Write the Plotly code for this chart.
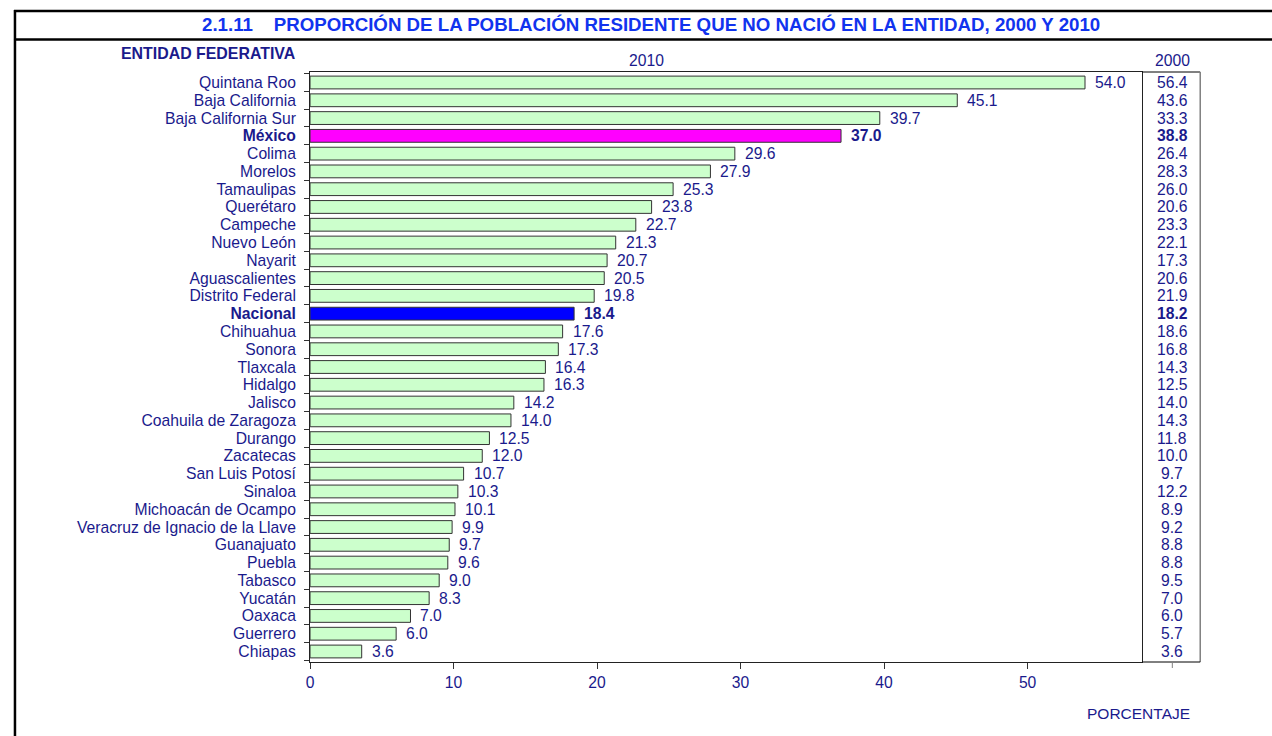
import plotly.graph_objects as go

entidades = ["Quintana Roo", "Baja California", "Baja California Sur", "México", "Colima",
             "Morelos", "Tamaulipas", "Querétaro", "Campeche", "Nuevo León", "Nayarit",
             "Aguascalientes", "Distrito Federal", "Nacional", "Chihuahua", "Sonora",
             "Tlaxcala", "Hidalgo", "Jalisco", "Coahuila de Zaragoza", "Durango",
             "Zacatecas", "San Luis Potosí", "Sinaloa", "Michoacán de Ocampo",
             "Veracruz de Ignacio de la Llave", "Guanajuato", "Puebla", "Tabasco",
             "Yucatán", "Oaxaca", "Guerrero", "Chiapas"]
v2010 = [54.0, 45.1, 39.7, 37.0, 29.6, 27.9, 25.3, 23.8, 22.7, 21.3, 20.7, 20.5, 19.8,
         18.4, 17.6, 17.3, 16.4, 16.3, 14.2, 14.0, 12.5, 12.0, 10.7, 10.3, 10.1, 9.9,
         9.7, 9.6, 9.0, 8.3, 7.0, 6.0, 3.6]
v2000 = [56.4, 43.6, 33.3, 38.8, 26.4, 28.3, 26.0, 20.6, 23.3, 22.1, 17.3, 20.6, 21.9,
         18.2, 18.6, 16.8, 14.3, 12.5, 14.0, 14.3, 11.8, 10.0, 9.7, 12.2, 8.9, 9.2,
         8.8, 8.8, 9.5, 7.0, 6.0, 5.7, 3.6]
x_ticks = [0, 10, 20, 30, 40, 50]
destacados = {"México": "#ff00ff", "Nacional": "#0000ff"}

W, H = 1272, 736
NAVY = "#1a1a8c"
TITLE = "#1133ee"
FONT = "Liberation Sans, Arial, sans-serif"
FS = 15.7

def px(x):
    return x / W

def py(y):
    return 1 - y / H

colors = [destacados.get(e, "#ccffcc") for e in entidades]
ticktext = [f"<b>{e}</b>" if e in destacados else e for e in entidades]

fig = go.Figure()
fig.add_trace(go.Bar(
    x=v2010, y=entidades, orientation="h", width=0.72,
    marker=dict(color=colors, line=dict(color="#333333", width=1)),
    hoverinfo="x+y", showlegend=False,
))

ann = []
for e, v in zip(entidades, v2010):
    txt = f"{v:.1f}"
    if e in destacados:
        txt = f"<b>{txt}</b>"
    ann.append(dict(x=v, y=e, xref="x", yref="y", text=txt, showarrow=False,
                    xanchor="left", xshift=8, font=dict(size=FS, color=NAVY, family=FONT)))
for e, v in zip(entidades, v2000):
    txt = f"{v:.1f}"
    if e in destacados:
        txt = f"<b>{txt}</b>"
    ann.append(dict(x=px(1172), y=e, xref="paper", yref="y", text=txt, showarrow=False,
                    xanchor="center", font=dict(size=FS, color=NAVY, family=FONT)))

ann += [
    dict(x=px(649), y=py(25), xref="paper", yref="paper",
         text="<b>2.1.11    PROPORCIÓN DE LA POBLACIÓN RESIDENTE QUE NO NACIÓ EN LA ENTIDAD, 2000 Y 2010</b>",
         showarrow=False, xanchor="center", yanchor="middle",
         font=dict(size=18.7, color=TITLE, family=FONT)),
    dict(x=px(205), y=py(53), xref="paper", yref="paper", text="<b>ENTIDAD FEDERATIVA</b>",
         showarrow=False, xanchor="center", yanchor="middle",
         font=dict(size=15.9, color=NAVY, family=FONT)),
    dict(x=px(645), y=py(60), xref="paper", yref="paper", text="2010",
         showarrow=False, xanchor="center", yanchor="middle",
         font=dict(size=FS, color=NAVY, family=FONT)),
    dict(x=px(1172), y=py(60), xref="paper", yref="paper", text="2000",
         showarrow=False, xanchor="center", yanchor="middle",
         font=dict(size=FS, color=NAVY, family=FONT)),
    dict(x=px(1138), y=py(713), xref="paper", yref="paper", text="PORCENTAJE",
         showarrow=False, xanchor="center", yanchor="middle",
         font=dict(size=15.5, color=NAVY, family=FONT)),
]

def line(x0, y0, x1, y1, color="black", width=2):
    return dict(type="line", xref="paper", yref="paper",
                x0=px(x0), y0=py(y0), x1=px(x1), y1=py(y1),
                line=dict(color=color, width=width))

shapes = [
    line(10, 11, 1272, 11, width=2.5),
    line(10, 39.5, 1272, 39.5, width=2.5),
    line(11, 10, 11, 736, width=2.5),
    line(1142, 72, 1200, 72, width=1),
    line(1200, 72, 1200, 662, color="#808080", width=1.5),
    line(1142, 662, 1200, 662, width=1),
    line(1172, 662, 1172, 668, color="#808080", width=1),
]

fig.update_layout(
    width=W, height=H, margin=dict(l=0, r=0, t=0, b=0),
    paper_bgcolor="white", plot_bgcolor="white",
    font=dict(family=FONT, size=FS, color=NAVY),
    xaxis=dict(domain=[px(307), px(1142)], range=[0, 58], tickvals=x_ticks,
               ticks="outside", ticklen=6, tickcolor="#333333",
               showline=True, linecolor="#222222", linewidth=1, mirror=True,
               showgrid=False, zeroline=False,
               tickfont=dict(size=FS, color=NAVY, family=FONT)),
    yaxis=dict(domain=[py(662), py(72)], autorange="reversed",
               tickvals=entidades, ticktext=ticktext,
               ticks="outside", ticklen=5, tickcolor="#333333", tickson="boundaries",
               ticklabelstandoff=10,
               showline=True, linecolor="#222222", linewidth=1, mirror=True,
               showgrid=False, tickfont=dict(size=FS, color=NAVY, family=FONT)),
    annotations=ann, shapes=shapes, bargap=0.28,
)

fig.write_html("out.html", config={"displayModeBar": False},
               post_script="document.body.style.margin='0';document.body.style.overflow='hidden';")
